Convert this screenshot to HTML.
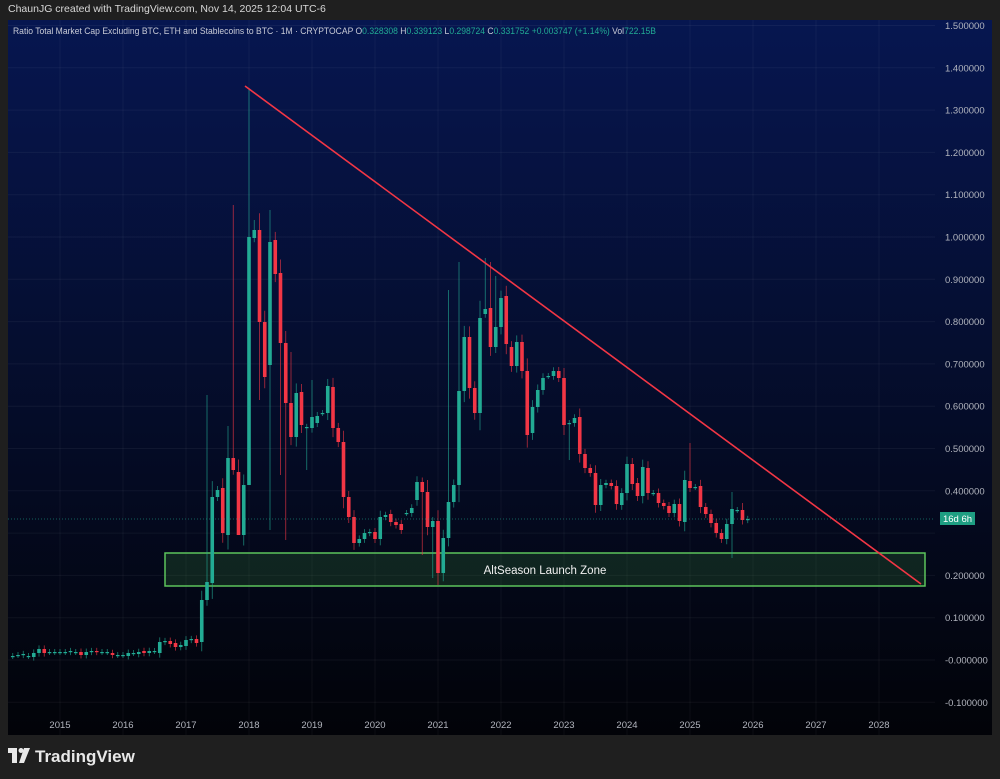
<!DOCTYPE html>
<html><head><meta charset="utf-8"><style>
html,body{margin:0;padding:0;background:#1f1f1f;width:1000px;height:779px;overflow:hidden;font-family:"Liberation Sans",sans-serif}
#hdr{position:absolute;left:8px;top:3px;font-size:10.5px;color:#d8d8d8}
</style></head><body>
<div id="hdr">ChaunJG created with TradingView.com, Nov 14, 2025 12:04 UTC-6</div>
<svg width="1000" height="779" style="position:absolute;left:0;top:0">
<defs><linearGradient id="g" x1="0" y1="0" x2="0" y2="1">
<stop offset="0" stop-color="#061650"/><stop offset="0.45" stop-color="#050e30"/><stop offset="1" stop-color="#020308"/></linearGradient></defs>
<rect x="8" y="20" width="984" height="715" fill="url(#g)"/>
<g id="grid"></g>
<text x="13" y="34" fill="#c8cbd6" font-size="9.5" textLength="643" lengthAdjust="spacingAndGlyphs" font-family="Liberation Sans">Ratio Total Market Cap Excluding BTC, ETH and Stablecoins to BTC · 1M · CRYPTOCAP  O<tspan fill="#22ab94">0.328308</tspan>  H<tspan fill="#22ab94">0.339123</tspan>  L<tspan fill="#22ab94">0.298724</tspan>  C<tspan fill="#22ab94">0.331752</tspan>  <tspan fill="#22ab94">+0.003747 (+1.14%)</tspan>  Vol<tspan fill="#22ab94">722.15B</tspan></text>
<rect x="165" y="553" width="760" height="33" fill="rgba(60,140,60,0.22)" stroke="#5cc45c" stroke-width="1.5"/>
<g id="c"></g>
<line x1="8" y1="519" x2="935" y2="519" stroke="#22ab94" stroke-width="0.8" stroke-dasharray="1,2" opacity="0.7"/>
<line x1="245" y1="86" x2="921" y2="584" stroke="#f23645" stroke-width="1.6"/>
<text x="545" y="574" fill="#f0f0f0" font-size="11.5" text-anchor="middle">AltSeason Launch Zone</text>
<rect x="940" y="512" width="35" height="13" fill="#1e9e82"/>
<text x="957.5" y="522" fill="#fff" font-size="9.5" text-anchor="middle">16d 6h</text>
<g id="ax" font-size="9.5" fill="#b2b5be"></g>
<g fill="#e8e8e8"><rect x="8" y="748" width="9" height="5"/><rect x="12" y="748" width="5" height="15"/><circle cx="21" cy="750.5" r="2.5"/><polygon points="24,748 30,748 24,763 19,763"/></g>
<text x="35" y="762" fill="#e8e8e8" font-size="17" font-weight="bold">TradingView</text>
</svg>
<script>
(function(){
var ns="http://www.w3.org/2000/svg";
function el(p,tg,a,txt){var e=document.createElementNS(ns,tg);for(var q in a)e.setAttribute(q,a[q]);if(txt)e.textContent=txt;document.getElementById(p).appendChild(e);}
for(var k=-1;k<=15;k++){var yy=660-k*42.3;
 el("grid","line",{x1:8,x2:935,y1:yy,y2:yy,stroke:"rgba(255,255,255,0.05)"});
 var lab=(k==0?"-0.000000":(k<0?"-":"")+(Math.abs(k)/10).toFixed(6));
 if(k==3)continue;
 el("ax","text",{x:945,y:yy+3.5},lab);}
for(var yr=2015;yr<=2028;yr++){var xx=60+(yr-2015)*63;
 el("grid","line",{x1:xx,x2:xx,y1:20,y2:735,stroke:"rgba(255,255,255,0.045)"});
 el("ax","text",{x:xx,y:728,"text-anchor":"middle"},String(yr));}
var d=[[656,656],[655,655],[655,654],[656,656],[657,653],[653,649],[649,653],[652,652],[652,652],
[652,652],[652,652],[652,651],[652,652],[652,655],[655,652],[652,651],[651,652],[652,652],[652,652],[653,655],[655,655],
[655,655],[656,653],[653,653],[654,652],[651,653],[653,651],[651,651],[653,642],[642,641],[641,644],[643,647],[647,645],[646,640],[640,639],
[639,643],[642,600],[600,582],[583,497],[497,490],[488,533],[535,458],[458,470],[472,535],[535,485],[485,237],
[238,230],[230,322],[322,377],[365,242],[240,274],[273,343],[343,403],[403,437],[437,393],[392,425],[428,427],[428,417],
[423,416],[413,413],[413,386],[387,428],[428,442],[442,497],[497,517],[517,543],[543,539],[539,533],[533,532],[532,539],
[539,517],[517,515],[514,522],[522,525],[524,530],[513,513],[513,508],[500,482],[482,492],[492,527],[527,521],[521,573],
[573,538],[538,502],[502,485],[485,391],[391,337],[337,388],[388,413],[413,318],[314,309],[308,347],[347,327],[327,298],
[296,344],[347,366],[366,342],[342,371],[371,435],[433,407],[407,390],[390,378],[376,376],[376,371],[371,378],[378,425],
[423,423],[423,418],[417,454],[454,468],[468,473],[473,505],[505,485],[485,483],[483,486],[486,504],[505,493],[493,464],
[464,484],[483,496],[496,467],[468,493],[493,493],[493,503],[503,506],[506,513],[513,504],[504,521],[522,480],[481,488],
[487,487],[486,507],[507,514],[514,523],[523,533],[533,539],[539,524],[524,509],[510,510],[510,520],[520,519]];
var hi={"33":205,"28":395,"32":426,"36":88,"37":220,"40":210,"44":352,"48":380,"70":480,"74":290,"76":262,"81":258,"82":262,"83":276,"120":443,"128":492,"130":503};
var lo={"36":300,"34":530,"38":400,"42":475,"71":578,"72":585,"69":555,"97":460,"128":558,"40":530,"43":540,"47":470};
for(var i=0;i<d.length;i++){var m=i-9,cx=60+m*5.25,o=d[i][0],c=d[i][1];
 var col=c<=o?"#22ab94":"#f23645";
 var bt=Math.min(o,c),bb=Math.max(o,c);
 var h=hi[String(m)]||bt-3-Math.abs(o-c)*0.15, l=lo[String(m)]||bb+3+Math.abs(o-c)*0.15;
 el("c","line",{x1:cx,x2:cx,y1:h,y2:l,stroke:col,"stroke-width":0.8,opacity:0.75});
 el("c","rect",{x:cx-1.8,y:bt,width:3.6,height:Math.max(1.2,bb-bt),fill:col});}
})();
</script>
</body></html>
